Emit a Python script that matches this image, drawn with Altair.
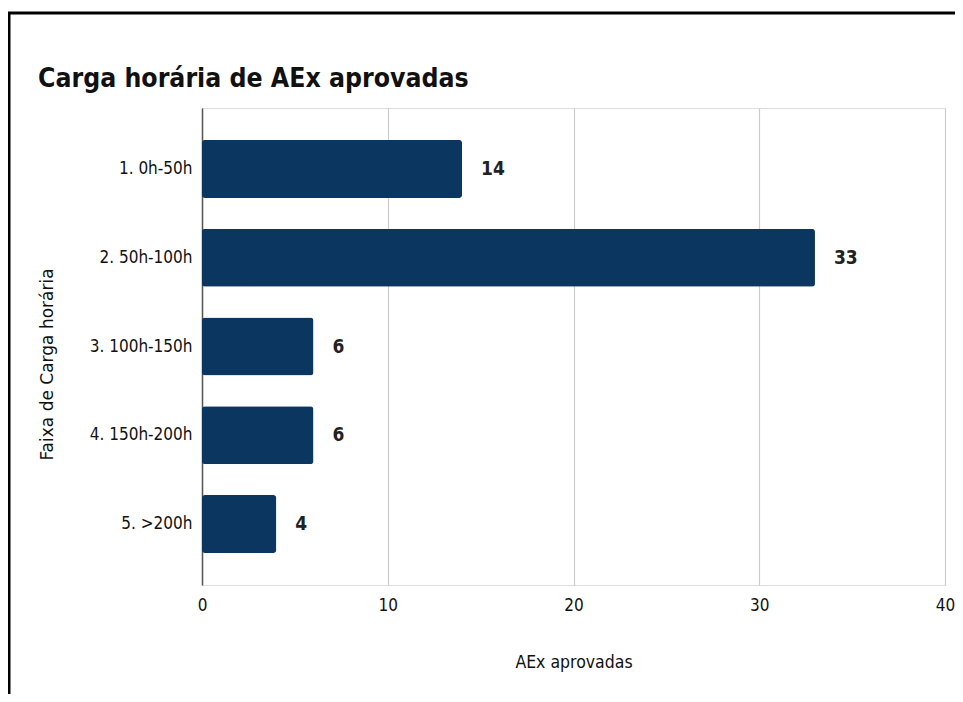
import altair as alt
import pandas as pd

categories = ["1. 0h-50h", "2. 50h-100h", "3. 100h-150h", "4. 150h-200h", "5. >200h"]
values = [14, 33, 6, 6, 4]

df = pd.DataFrame({"faixa": categories, "aex": values})

COND = "DejaVu Sans Condensed, Liberation Sans Narrow, Roboto, sans-serif"

base = alt.Chart(df)

bars = base.mark_bar(color="#0a3660", cornerRadius=3).encode(
    y=alt.Y(
        "faixa:N",
        sort=categories,
        scale=alt.Scale(paddingInner=0.347, paddingOuter=0.36),
        axis=alt.Axis(
            title="Faixa de Carga horária",
            titleFont="DejaVu Sans",
            titleFontSize=17,
            titleFontWeight="normal",
            titleColor="#111",
            titleX=-146,
            titleY=256,
            titleAngle=-90,
            titleAlign="center",
            titleBaseline="bottom",
            labelFont=COND,
            labelFontSize=17,
            labelColor="#111",
            labelPadding=10,
            ticks=False,
            domainColor="#555",
            domainWidth=1.5,
            grid=False,
        ),
    ),
    x=alt.X(
        "aex:Q",
        scale=alt.Scale(domain=[0, 40]),
        axis=alt.Axis(
            title="AEx aprovadas",
            titleFont=COND,
            titleFontSize=17.5,
            titleFontWeight="normal",
            titleColor="#111",
            titleY=68,
            titleBaseline="top",
            labelFont=COND,
            labelFontSize=17,
            labelColor="#111",
            labelPadding=12,
            labelFlush=False,
            ticks=False,
            domain=False,
            values=[0, 10, 20, 30, 40],
            gridColor="#cccccc",
            gridWidth=1.2,
        ),
    ),
)

labels = base.mark_text(
    align="left",
    baseline="middle",
    dx=19,
    font=COND,
    fontSize=19,
    fontWeight="bold",
    color="#222",
).encode(
    y=alt.Y("faixa:N", sort=categories),
    x=alt.X("aex:Q"),
    text=alt.Text("aex:Q"),
)

frame_top = alt.Chart(pd.DataFrame({"k": [0]})).mark_rule(color="black", strokeWidth=3).encode(
    x=alt.value(-195), x2=alt.value(760), y=alt.value(-95)
)
frame_left = alt.Chart(pd.DataFrame({"k": [0]})).mark_rule(color="black", strokeWidth=3).encode(
    x=alt.value(-193), y=alt.value(-96), y2=alt.value(600)
)

chart = (
    alt.layer(bars, labels, frame_top, frame_left)
    .properties(
        width=743,
        height=477,
        autosize=alt.AutoSizeParams(type="none"),
        padding={"left": 194, "top": 100, "right": 10, "bottom": 109},
        title=alt.TitleParams(
            "Carga horária de AEx aprovadas",
            anchor="start",
            frame="group",
            dx=-164,
            dy=103,
            offset=0,
            baseline="alphabetic",
            font=COND,
            fontSize=26.4,
            fontWeight="bold",
            color="#111",
        ),
    )
    .configure_view(stroke=None)
    .configure(background="white")
)

chart.save("out.html", embed_options={"renderer": "svg", "actions": False})
